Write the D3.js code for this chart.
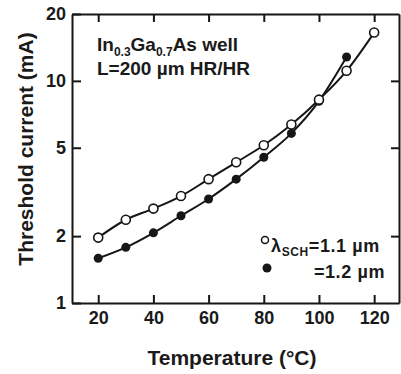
<!DOCTYPE html>
<meta charset="utf-8">
<style>
  body { margin: 0; background: #fff; }
  text { font-family: "Liberation Sans", Arial, sans-serif; font-weight: bold; fill: #1a1a1a; }
</style>
<body>
<script src="https://d3js.org/d3.v7.min.js"></script>
<script>
  // temperature (°C) and threshold current (mA)
  var temps11 = [20, 30, 40, 50, 60, 70, 80, 90, 100, 110, 120];
  var ith11 = [1.97, 2.37, 2.66, 3.03, 3.61, 4.3, 5.13, 6.36, 8.23, 11.1, 16.5];
  var temps12 = [20, 30, 40, 50, 60, 70, 80, 90, 100, 110];
  var ith12 = [1.59, 1.78, 2.07, 2.47, 2.94, 3.61, 4.53, 5.8, 8.1, 12.8];
  var xTicks = [20, 40, 60, 80, 100, 120];
  var yTicks = [1, 2, 5, 10, 20];

  var svg = d3.select("body").append("svg")
          .attr("width", 401)
          .attr("height", 374);

  var x = d3.scaleLinear().domain([10.5, 129]).range([72, 399]);
  var y = d3.scaleLog().domain([1, 20]).range([303, 14]);

  var ink = "#161616";

  // frame + ticks (all ticks point inward)
  var bottom = svg.append("g")
          .attr("transform", "translate(0,303)")
          .call(d3.axisBottom(x).tickValues(xTicks).tickSizeInner(-8).tickSizeOuter(0).tickPadding(8));
  bottom.selectAll("text").style("font-size", "18px");

  svg.append("g")
          .attr("transform", "translate(0,14)")
          .call(d3.axisTop(x).tickValues(xTicks).tickSizeInner(-8).tickSizeOuter(0).tickFormat(""));

  var left = svg.append("g")
          .attr("transform", "translate(72,0)")
          .call(d3.axisLeft(y).tickValues(yTicks).tickFormat(d3.format("d")).tickSizeInner(-9).tickSizeOuter(0).tickPadding(6));
  left.selectAll("text").style("font-size", "18px");

  svg.append("g")
          .attr("transform", "translate(399,0)")
          .call(d3.axisRight(y).tickValues([2, 5, 10]).tickSizeInner(-8).tickSizeOuter(0).tickFormat(""));

  svg.selectAll(".domain, .tick line")
          .attr("stroke", ink)
          .attr("stroke-width", 2);
  svg.selectAll(".tick text").attr("fill", ink);

  // curves
  var line = d3.line()
          .x(function(d) { return x(d[0]); })
          .y(function(d) { return y(d[1]); })
          .curve(d3.curveMonotoneX);

  var s11 = d3.zip(temps11, ith11);
  var s12 = d3.zip(temps12, ith12);

  svg.append("path").datum(s12)
          .attr("d", line).attr("fill", "none").attr("stroke", ink).attr("stroke-width", 2);
  svg.append("path").datum(s11)
          .attr("d", line).attr("fill", "none").attr("stroke", ink).attr("stroke-width", 2);

  svg.selectAll(".p12").data(s12).enter().append("circle")
          .attr("cx", function(d) { return x(d[0]); })
          .attr("cy", function(d) { return y(d[1]); })
          .attr("r", 4.5)
          .attr("fill", ink);

  svg.selectAll(".p11").data(s11).enter().append("circle")
          .attr("cx", function(d) { return x(d[0]); })
          .attr("cy", function(d) { return y(d[1]); })
          .attr("r", 4.5)
          .attr("fill", "#fff")
          .attr("stroke", ink)
          .attr("stroke-width", 1.6);

  // annotation
  var ann = svg.append("text").attr("x", 97).attr("y", 51).style("font-size", "19px");
  ann.append("tspan").text("In");
  ann.append("tspan").attr("dy", 5).style("font-size", "12px").text("0.3");
  ann.append("tspan").attr("dy", -5).text("Ga");
  ann.append("tspan").attr("dy", 5).style("font-size", "12px").text("0.7");
  ann.append("tspan").attr("dy", -5).text("As well");

  svg.append("text").attr("x", 97).attr("y", 75).style("font-size", "19px")
          .text("L=200 µm HR/HR");

  // legend
  svg.append("circle").attr("cx", 265).attr("cy", 240).attr("r", 3.5)
          .attr("fill", "#fff").attr("stroke", ink).attr("stroke-width", 1.5);
  var lg = svg.append("text").attr("x", 271).attr("y", 252)
          .style("font-size", "18px").style("letter-spacing", "0.6px");
  lg.append("tspan").text("λ");
  lg.append("tspan").attr("dy", 4).style("font-size", "12px").text("SCH");
  lg.append("tspan").attr("dy", -4).text("=1.1 µm");

  svg.append("circle").attr("cx", 267).attr("cy", 268).attr("r", 4.5).attr("fill", ink);
  svg.append("text").attr("x", 385).attr("y", 278).attr("text-anchor", "end")
          .style("font-size", "18px").style("letter-spacing", "0.6px").text("=1.2 µm");

  // axis titles
  svg.append("text")
          .attr("transform", "translate(33,149) rotate(-90)")
          .attr("text-anchor", "middle")
          .style("font-size", "21px")
          .text("Threshold current (mA)");

  svg.append("text")
          .attr("x", 232).attr("y", 365)
          .attr("text-anchor", "middle")
          .style("font-size", "21px")
          .text("Temperature (°C)");
</script>
</body>
</html>
